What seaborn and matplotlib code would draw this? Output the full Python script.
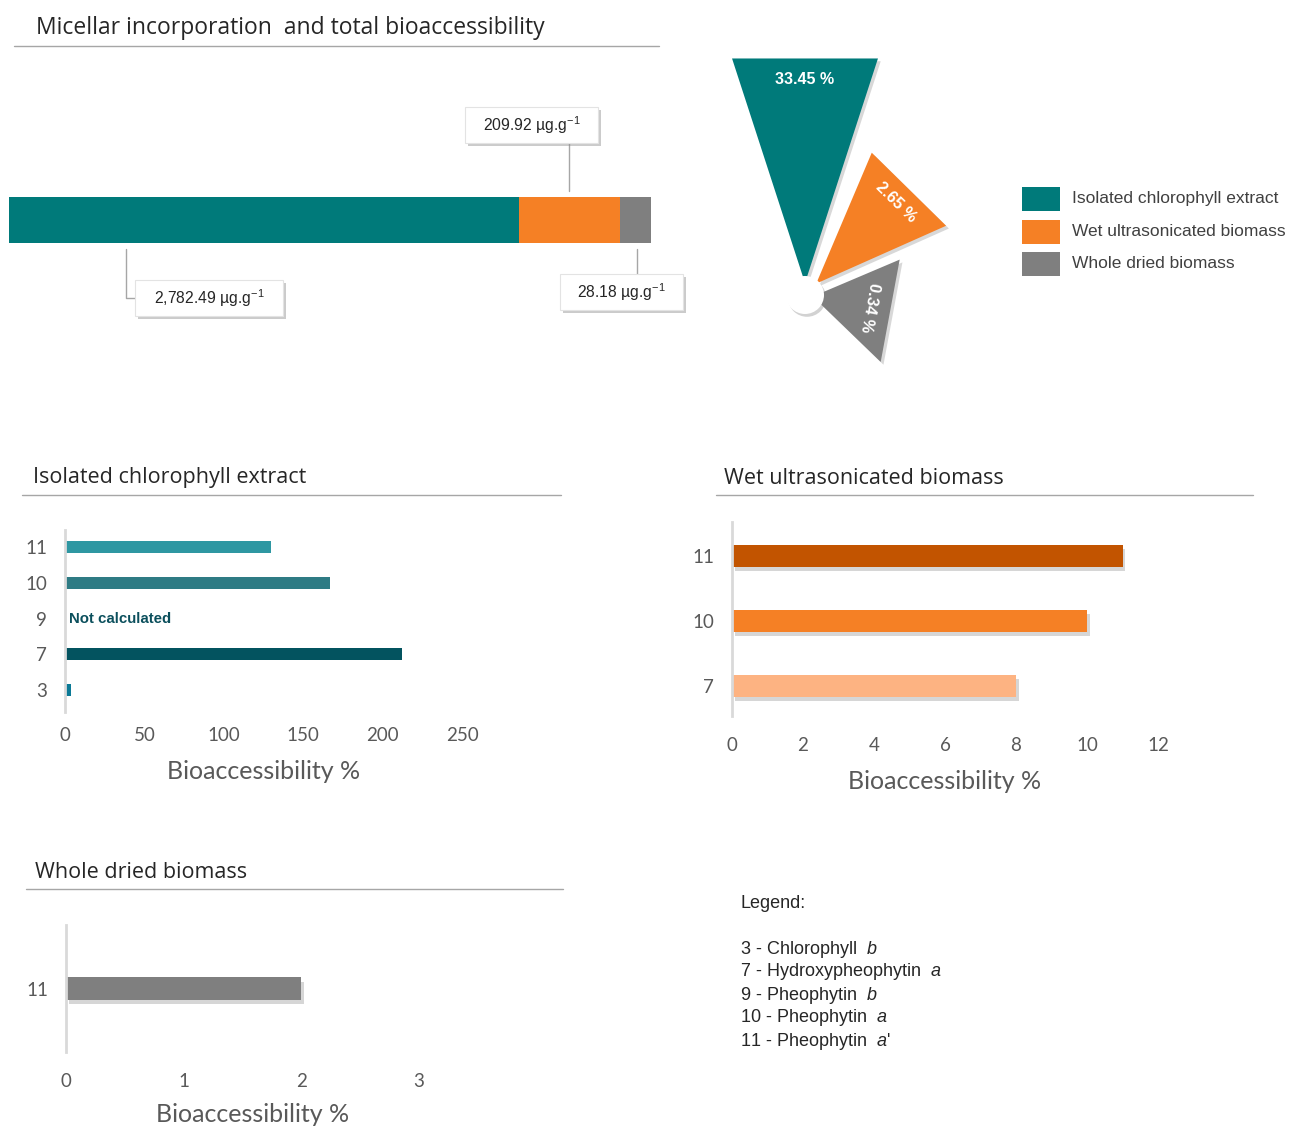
import numpy as np
import pandas as pd
import matplotlib
matplotlib.use("Agg")
import matplotlib.pyplot as plt
import matplotlib.patheffects as pe
from matplotlib.patches import Polygon, Circle, Rectangle
from matplotlib.lines import Line2D
import seaborn as sns

# ---------------- data ----------------
groups = ["Isolated chlorophyll extract", "Wet ultrasonicated biomass", "Whole dried biomass"]
group_colors = ["#007A7A", "#F58025", "#7F7F7F"]
micellar_labels = ["2,782.49", "209.92", "28.18"]          # µg/g, micellar incorporation
bar_share_pct = [79.5, 15.7, 4.8]                           # segment lengths of the (schematic) stacked bar
bioaccess_total_pct = [33.45, 2.65, 0.34]                   # total bioaccessibility (%)

ext_compounds = ["11", "10", "9", "7", "3"]
ext_values = [130.0, 167.0, np.nan, 212.0, 4.0]
ext_colors = {"11": "#2E97A2", "10": "#2E7B84", "9": "#0B4F5C", "7": "#03535F", "3": "#0B7A96"}

wet_compounds = ["11", "10", "7"]
wet_values = [11.0, 10.0, 8.0]
wet_colors = {"11": "#C25400", "10": "#F58025", "7": "#FDB382"}

dry_compounds = ["11"]
dry_values = [2.0]
dry_colors = {"11": "#7F7F7F"}

legend_lines = ["3 - Chlorophyll  $\\it{b}$",
                "7 - Hydroxypheophytin  $\\it{a}$",
                "9 - Pheophytin  $\\it{b}$",
                "10 - Pheophytin  $\\it{a}$",
                "11 - Pheophytin  $\\it{a}$'"]

# ---------------- style ----------------
sns.set_theme(style="white")
plt.rcParams["font.family"] = ["Liberation Sans", "DejaVu Sans"]
plt.rcParams["mathtext.fontset"] = "custom"
plt.rcParams["mathtext.rm"] = "Liberation Sans"
plt.rcParams["mathtext.it"] = "Liberation Sans:italic"
plt.rcParams["mathtext.bf"] = "Liberation Sans:bold"

W, H = 1290, 1127
fig = plt.figure(figsize=(W / 100, H / 100), dpi=100)
fig.patch.set_facecolor("white")


def R(x0, y0, x1, y1):
    return [x0 / W, 1 - y1 / H, (x1 - x0) / W, (y1 - y0) / H]


def fx(x):
    return x / W


def fy(y):
    return 1 - y / H


def hline(x0, x1, y, color="#A6A6A6", lw=1.0):
    fig.add_artist(Line2D([fx(x0), fx(x1)], [fy(y), fy(y)], transform=fig.transFigure, color=color, lw=lw))


def section_title(x, y, text, size):
    fig.text(fx(x), fy(y), text, fontsize=size, color="#262626", va="center", ha="left",
             family=["Open Sans", "DejaVu Sans"])


# ---------------- top section ----------------
section_title(36, 28, "Micellar incorporation  and total bioaccessibility", 16.5)
hline(14, 659, 46)

ax0 = fig.add_axes(R(9, 190, 651, 250))
cum = np.cumsum(bar_share_pct)
for i in reversed(range(len(cum))):
    sns.barplot(x=[cum[i]], y=["total"], color=group_colors[i], width=0.8, orient="h",
                saturation=1, linewidth=0, ax=ax0)
ax0.set_xlim(0, cum[-1])
ax0.set_ylim(0.52, -0.52)
ax0.axis("off")


def callout(x0, y0, x1, y1, text):
    rect = Rectangle((fx(x0), fy(y1)), (x1 - x0) / W, (y1 - y0) / H, transform=fig.transFigure,
                     facecolor="white", edgecolor="#E3E3E3", lw=0.8, zorder=5,
                     path_effects=[pe.SimplePatchShadow(offset=(2.5, -2.5), shadow_rgbFace="#8C8C8C", alpha=0.45),
                                   pe.Normal()])
    fig.add_artist(rect)
    fig.text(fx((x0 + x1) / 2), fy((y0 + y1) / 2), text, fontsize=11.3, color="#262626",
             ha="center", va="center", zorder=6)


unit = " µg.g$^{-1}$"
lc = "#A6A6A6"
fig.add_artist(Line2D([fx(126), fx(126), fx(135)], [fy(249), fy(298), fy(298)],
                      transform=fig.transFigure, color=lc, lw=1))
callout(135, 280, 283, 316, micellar_labels[0] + unit)
fig.add_artist(Line2D([fx(569), fx(569)], [fy(143), fy(191)], transform=fig.transFigure, color=lc, lw=1))
callout(465, 107, 598, 143, micellar_labels[1] + unit)
fig.add_artist(Line2D([fx(637), fx(637)], [fy(249), fy(274)], transform=fig.transFigure, color=lc, lw=1))
callout(560, 274, 683, 310, micellar_labels[2] + unit)

# ---------------- exploded "rose" pie ----------------
axp = fig.add_axes(R(700, 40, 1000, 400))
axp.set_xlim(700, 1000)
axp.set_ylim(400, 40)
axp.axis("off")
cx, cy = 805, 295
spans = [(-18, 18), (23, 66), (67, 134)]
explode = [12, 16, 8]
label_frac = [0.86, 0.80, 0.62]
for v, (a0, a1), ex, col, lf in zip(bioaccess_total_pct, spans, explode, group_colors, label_frac):
    r = 117 * v ** 0.2
    mid = np.deg2rad((a0 + a1) / 2)
    vx, vy = cx + ex * np.sin(mid), cy - ex * np.cos(mid)
    pts = [(vx, vy)] + [(vx + r * np.sin(np.deg2rad(a)), vy - r * np.cos(np.deg2rad(a))) for a in (a0, a1)]
    axp.add_patch(Polygon(pts, closed=True, facecolor=col, edgecolor="none", zorder=2,
                          path_effects=[pe.SimplePatchShadow(offset=(2, -2), shadow_rgbFace="#7F7F7F", alpha=0.3),
                                        pe.Normal()]))
    lx, ly = vx + lf * r * np.sin(mid), vy - lf * r * np.cos(mid)
    axp.text(lx, ly, f"{v:.2f} %", color="white", fontsize=11.5, fontweight="bold",
             ha="center", va="center", rotation=-(a0 + a1) / 2, rotation_mode="anchor", zorder=4)
axp.add_patch(Circle((cx, cy), 19, facecolor="white", edgecolor="none", zorder=3,
                     path_effects=[pe.SimplePatchShadow(offset=(1.5, -2), shadow_rgbFace="#7F7F7F", alpha=0.35),
                                   pe.Normal()]))

# group legend (swatches + labels)
for i, (g, c) in enumerate(zip(groups, group_colors)):
    top = 187 + 32.5 * i
    fig.add_artist(Rectangle((fx(1022), fy(top + 24)), 38 / W, 24 / H, transform=fig.transFigure,
                             facecolor=c, edgecolor="none"))
    fig.text(fx(1072), fy(top + 12), g, fontsize=12.5, color="#404040", ha="left", va="center")


# ---------------- bottom panels ----------------
def panel(rect, compounds, values, palette, xmax, xticks, ylim, width, tpad, lpad, shadow=False):
    ax = fig.add_axes(R(*rect))
    df = pd.DataFrame({"compound": compounds, "value": values}).dropna()
    sns.barplot(data=df, x="value", y="compound", order=compounds, hue="compound",
                palette=palette, width=width, orient="h", legend=False, saturation=1,
                linewidth=0, ax=ax)
    if shadow:
        for p in ax.patches:
            p.set_path_effects([pe.SimplePatchShadow(offset=(2, -3), shadow_rgbFace="#8C8C8C", alpha=0.35),
                                pe.Normal()])
    ax.set_xlim(0, xmax)
    ax.set_ylim(*ylim)
    ax.set_xticks(xticks)
    for s in ["top", "right", "bottom"]:
        ax.spines[s].set_visible(False)
    ax.spines["left"].set_color("#D9D9D9")
    ax.spines["left"].set_linewidth(2)
    ax.tick_params(axis="x", length=0, pad=tpad, labelsize=13.5, labelcolor="#595959")
    ax.tick_params(axis="y", length=0, pad=13, labelsize=13.5, labelcolor="#595959")
    for t in ax.get_xticklabels() + ax.get_yticklabels():
        t.set_family(["Lato", "DejaVu Sans"])
    ax.set_ylabel("")
    ax.set_xlabel("Bioaccessibility %", fontsize=18, color="#595959", labelpad=lpad,
                  family=["Lato", "DejaVu Sans"])
    ax.set_facecolor("none")
    return ax


section_title(33, 478, "Isolated chlorophyll extract", 15.5)
hline(22, 561, 495)
ax1 = panel((65, 530, 462, 712), ext_compounds, ext_values, ext_colors, 250,
            [0, 50, 100, 150, 200, 250], (4.62, -0.48), 0.33, tpad=11, lpad=11)
ax1.text(2.5, ext_compounds.index("9"), "Not calculated", color=ext_colors["9"], fontsize=10.8,
         fontweight="bold", ha="left", va="center")

section_title(724, 478, "Wet ultrasonicated biomass", 15.5)
hline(716, 1253, 495)
panel((732, 522, 1158, 716), wet_compounds, wet_values, wet_colors, 12,
      [0, 2, 4, 6, 8, 10, 12], (2.46, -0.52), 0.34, tpad=15, lpad=11.5, shadow=True)

section_title(35, 872, "Whole dried biomass", 15.5)
hline(26, 563, 889)
panel((66, 925, 440, 1052), dry_compounds, dry_values, dry_colors, 3.18,
      [0, 1, 2, 3], (1.0, -1.0), 0.35, tpad=15, lpad=9.5, shadow=True)

# ---------------- compound legend ----------------
fig.text(fx(740), fy(904), "Legend:", fontsize=13, color="#262626", ha="left", va="center")
for i, line in enumerate(legend_lines):
    fig.text(fx(740), fy(949 + 23 * i), line, fontsize=13, color="#262626", ha="left", va="center")

fig.savefig("out.png", dpi=100, facecolor="white")
